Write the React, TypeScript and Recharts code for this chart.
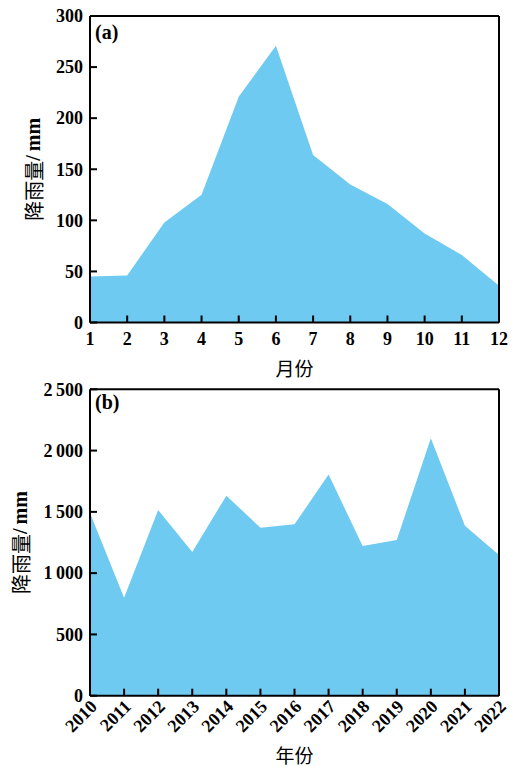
import { AreaChart, Area, XAxis, YAxis, Label } from "recharts";

const months = ["1", "2", "3", "4", "5", "6", "7", "8", "9", "10", "11", "12"];
const monthlyRain = [45, 46, 98, 125, 221, 271, 164, 135, 116, 87, 66, 36];
const monthTicks = [0, 50, 100, 150, 200, 250, 300];

const years = ["2010", "2011", "2012", "2013", "2014", "2015", "2016", "2017", "2018", "2019", "2020", "2021", "2022"];
const yearlyRain = [1490, 800, 1515, 1172, 1632, 1371, 1398, 1804, 1221, 1270, 2100, 1387, 1148];
const yearTicks = [0, 500, 1000, 1500, 2000, 2500];

const monthData = months.map((m, i) => ({ m, v: monthlyRain[i] }));
const yearData = years.map((y, i) => ({ y, v: yearlyRain[i] }));

const FILL = "#6ECAF0";
const SERIF = '"Liberation Serif", "Times New Roman", serif';
const CJK = '"Noto Sans CJK SC", sans-serif';
const axisStyle = { stroke: "#000", strokeWidth: 2 };
const tickStyle = { stroke: "#000", strokeWidth: 2 };

// thin space as thousands separator, like "2 500"
const fmtThousands = (v: number) =>
  v >= 1000 ? `${Math.floor(v / 1000)}\u2009${String(v % 1000).padStart(3, "0")}` : String(v);

function YTick({ x, y, payload, fmt }: any) {
  return (
    <text x={x} y={y} dy="0.35em" textAnchor="end" fontFamily={SERIF} fontWeight="bold" fontSize={18} fill="#000">
      {fmt ? fmt(payload.value) : payload.value}
    </text>
  );
}

function MonthTick({ x, y, payload }: any) {
  return (
    <text x={x} y={y} dy="0.71em" textAnchor="middle" fontFamily={SERIF} fontWeight="bold" fontSize={18} fill="#000">
      {payload.value}
    </text>
  );
}

function YearTick({ x, y, payload }: any) {
  const tx = x + 8;
  const ty = y + 12;
  return (
    <text x={tx} y={ty} textAnchor="end" transform={`rotate(-45 ${tx} ${ty})`} fontFamily={SERIF} fontWeight="bold" fontSize={18} fill="#000">
      {payload.value}
    </text>
  );
}

const yTitle = (cx: number) => (props: any) => {
  const vb = props.viewBox;
  const cy = vb.y + vb.height / 2;
  return (
    <text x={cx} y={cy} transform={`rotate(-90 ${cx} ${cy})`} textAnchor="middle" dominantBaseline="central" fontSize={20} fill="#000">
      <tspan fontFamily={CJK}>降雨量</tspan>
      <tspan fontFamily={SERIF} fontWeight="bold">{"/\u2009mm"}</tspan>
    </text>
  );
};

const xTitle = (text: string, dy: number) => (props: any) => {
  const vb = props.viewBox;
  return (
    <text x={vb.x + vb.width / 2} y={vb.y + dy} textAnchor="middle" dominantBaseline="central" fontFamily={CJK} fontSize={19} fill="#000">
      {text}
    </text>
  );
};

const panelTag = (text: string, dy: number) => (props: any) => {
  const vb = props.viewBox;
  return (
    <text x={vb.x + 5} y={vb.y + vb.height + dy} fontFamily={SERIF} fontWeight="bold" fontSize={20} fill="#000">
      {text}
    </text>
  );
};

type PanelProps = {
  data: any[];
  xKey: string;
  height: number;
  top: number;
  bottom: number;
  yMax: number;
  yTicks: number[];
  tick: any;
  labelGap: number;
  yTick: any;
  xLabel: string;
  xLabelDy: number;
  yLabelX: number;
  tag: string;
  tagDy: number;
};

function Panel(p: PanelProps) {
  return (
    <AreaChart width={514} height={p.height} data={p.data} margin={{ top: p.top - 1, right: 14, left: 30, bottom: p.bottom }}>
      <Area type="linear" dataKey="v" fill={FILL} fillOpacity={1} stroke="none" dot={false} activeDot={false} isAnimationActive={false} />
      <Area xAxisId="top" yAxisId="right" type="linear" dataKey="v" fill="none" stroke="none" dot={false} activeDot={false} isAnimationActive={false} />
      {/* inward ticks: negative tickSize, label pushed back out with tickMargin */}
      <XAxis dataKey={p.xKey} height={30} axisLine={axisStyle} tickLine={tickStyle} tickSize={-7} tickMargin={7 + p.labelGap} tick={p.tick} interval={0}>
        <Label content={xTitle(p.xLabel, p.xLabelDy)} />
      </XAxis>
      <YAxis width={60} domain={[0, p.yMax]} ticks={p.yTicks} axisLine={axisStyle} tickLine={tickStyle} tickSize={-7} tickMargin={14} tick={p.yTick}>
        <Label content={yTitle(p.yLabelX)} />
      </YAxis>
      <XAxis xAxisId="top" dataKey={p.xKey} orientation="top" height={1} tick={false} tickLine={false} axisLine={axisStyle}>
        <Label content={panelTag(p.tag, p.tagDy)} />
      </XAxis>
      <YAxis yAxisId="right" orientation="right" width={1} domain={[0, p.yMax]} tick={false} tickLine={false} axisLine={axisStyle} />
    </AreaChart>
  );
}

export default function App() {
  return (
    <div style={{ position: "absolute", left: 0, top: 0, width: 514, height: 767, background: "#fff" }}>
      <Panel
        data={monthData}
        xKey="m"
        height={380}
        top={16}
        bottom={27.5}
        yMax={300}
        yTicks={monthTicks}
        tick={<MonthTick />}
        labelGap={10}
        yTick={<YTick />}
        xLabel="月份"
        xLabelDy={44.5}
        yLabelX={33}
        tag="(a)"
        tagDy={23}
      />
      <Panel
        data={yearData}
        xKey="y"
        height={387}
        top={9.3}
        bottom={41.3}
        yMax={2500}
        yTicks={yearTicks}
        tick={<YearTick />}
        labelGap={0}
        yTick={<YTick fmt={fmtThousands} />}
        xLabel="年份"
        xLabelDy={59}
        yLabelX={20}
        tag="(b)"
        tagDy={20}
      />
    </div>
  );
}
